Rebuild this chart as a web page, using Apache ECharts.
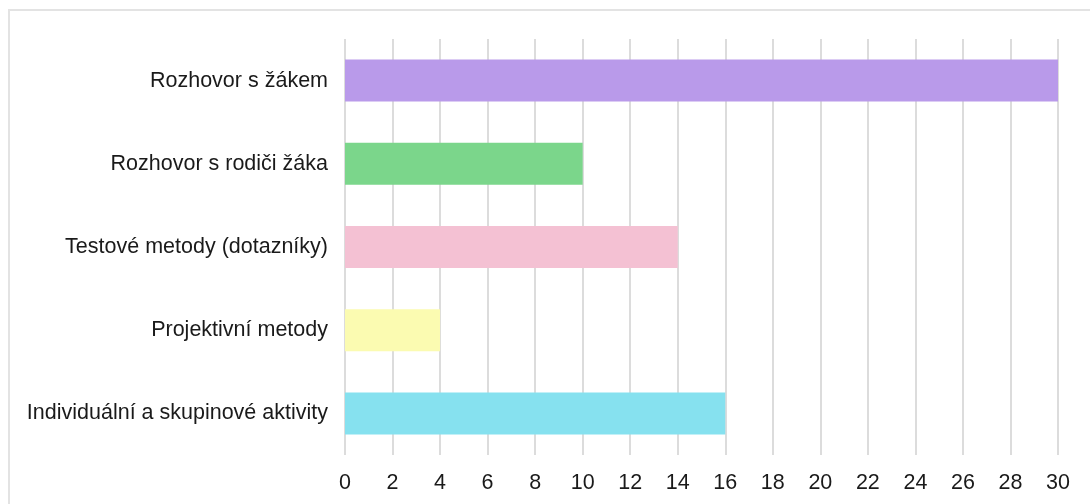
<!DOCTYPE html>
<html style="height: 100%">

<head>
    <meta charset="utf-8">
</head>

<body style="height: 100%; margin: 0; background: #fff">
    <div style="position: absolute; left: 8px; top: 9px; width: 1200px; height: 600px; border: 2px solid #e3e3e3"></div>
    <div id="bar" style="position: absolute; left: 0; top: 0; width: 1090px; height: 504px"></div>

    <script type="text/javascript" src="https://cdn.jsdelivr.net/npm/echarts@6/dist/echarts.min.js"></script>

    <script type="text/javascript">
        var categories = [
            'Rozhovor s žákem',
            'Rozhovor s rodiči žáka',
            'Testové metody (dotazníky)',
            'Projektivní metody',
            'Individuální a skupinové aktivity'
        ];
        var values = [30, 10, 14, 4, 16];
        var colors = ['#b99aea', '#7bd68b', '#f4c1d3', '#fbfbb1', '#86e1ef'];

        var dom = document.getElementById("bar");
        var myChart = echarts.init(dom);

        var option = {
            animation: false,
            grid: {
                left: 345,
                right: 32,
                top: 39,
                bottom: 49
            },
            xAxis: {
                type: 'value',
                min: 0,
                max: 30,
                interval: 2,
                axisLine: { show: false },
                axisTick: { show: false },
                splitLine: {
                    show: true,
                    lineStyle: { color: '#dcdcdc', width: 2 }
                },
                axisLabel: {
                    color: '#1a1a1a',
                    fontSize: 21.5,
                    fontFamily: 'Liberation Sans',
                    margin: 17
                }
            },
            yAxis: {
                type: 'category',
                inverse: true,
                data: categories,
                axisLine: { show: false },
                axisTick: { show: false },
                axisLabel: {
                    color: '#1a1a1a',
                    fontSize: 21.5,
                    fontFamily: 'Liberation Sans',
                    margin: 17
                }
            },
            series: [
                {
                    type: 'bar',
                    barWidth: 42,
                    data: values.map(function (v, i) {
                        return {
                            value: v,
                            itemStyle: { color: colors[i] }
                        };
                    })
                }
            ]
        };

        myChart.setOption(option);
    </script>
</body>

</html>
